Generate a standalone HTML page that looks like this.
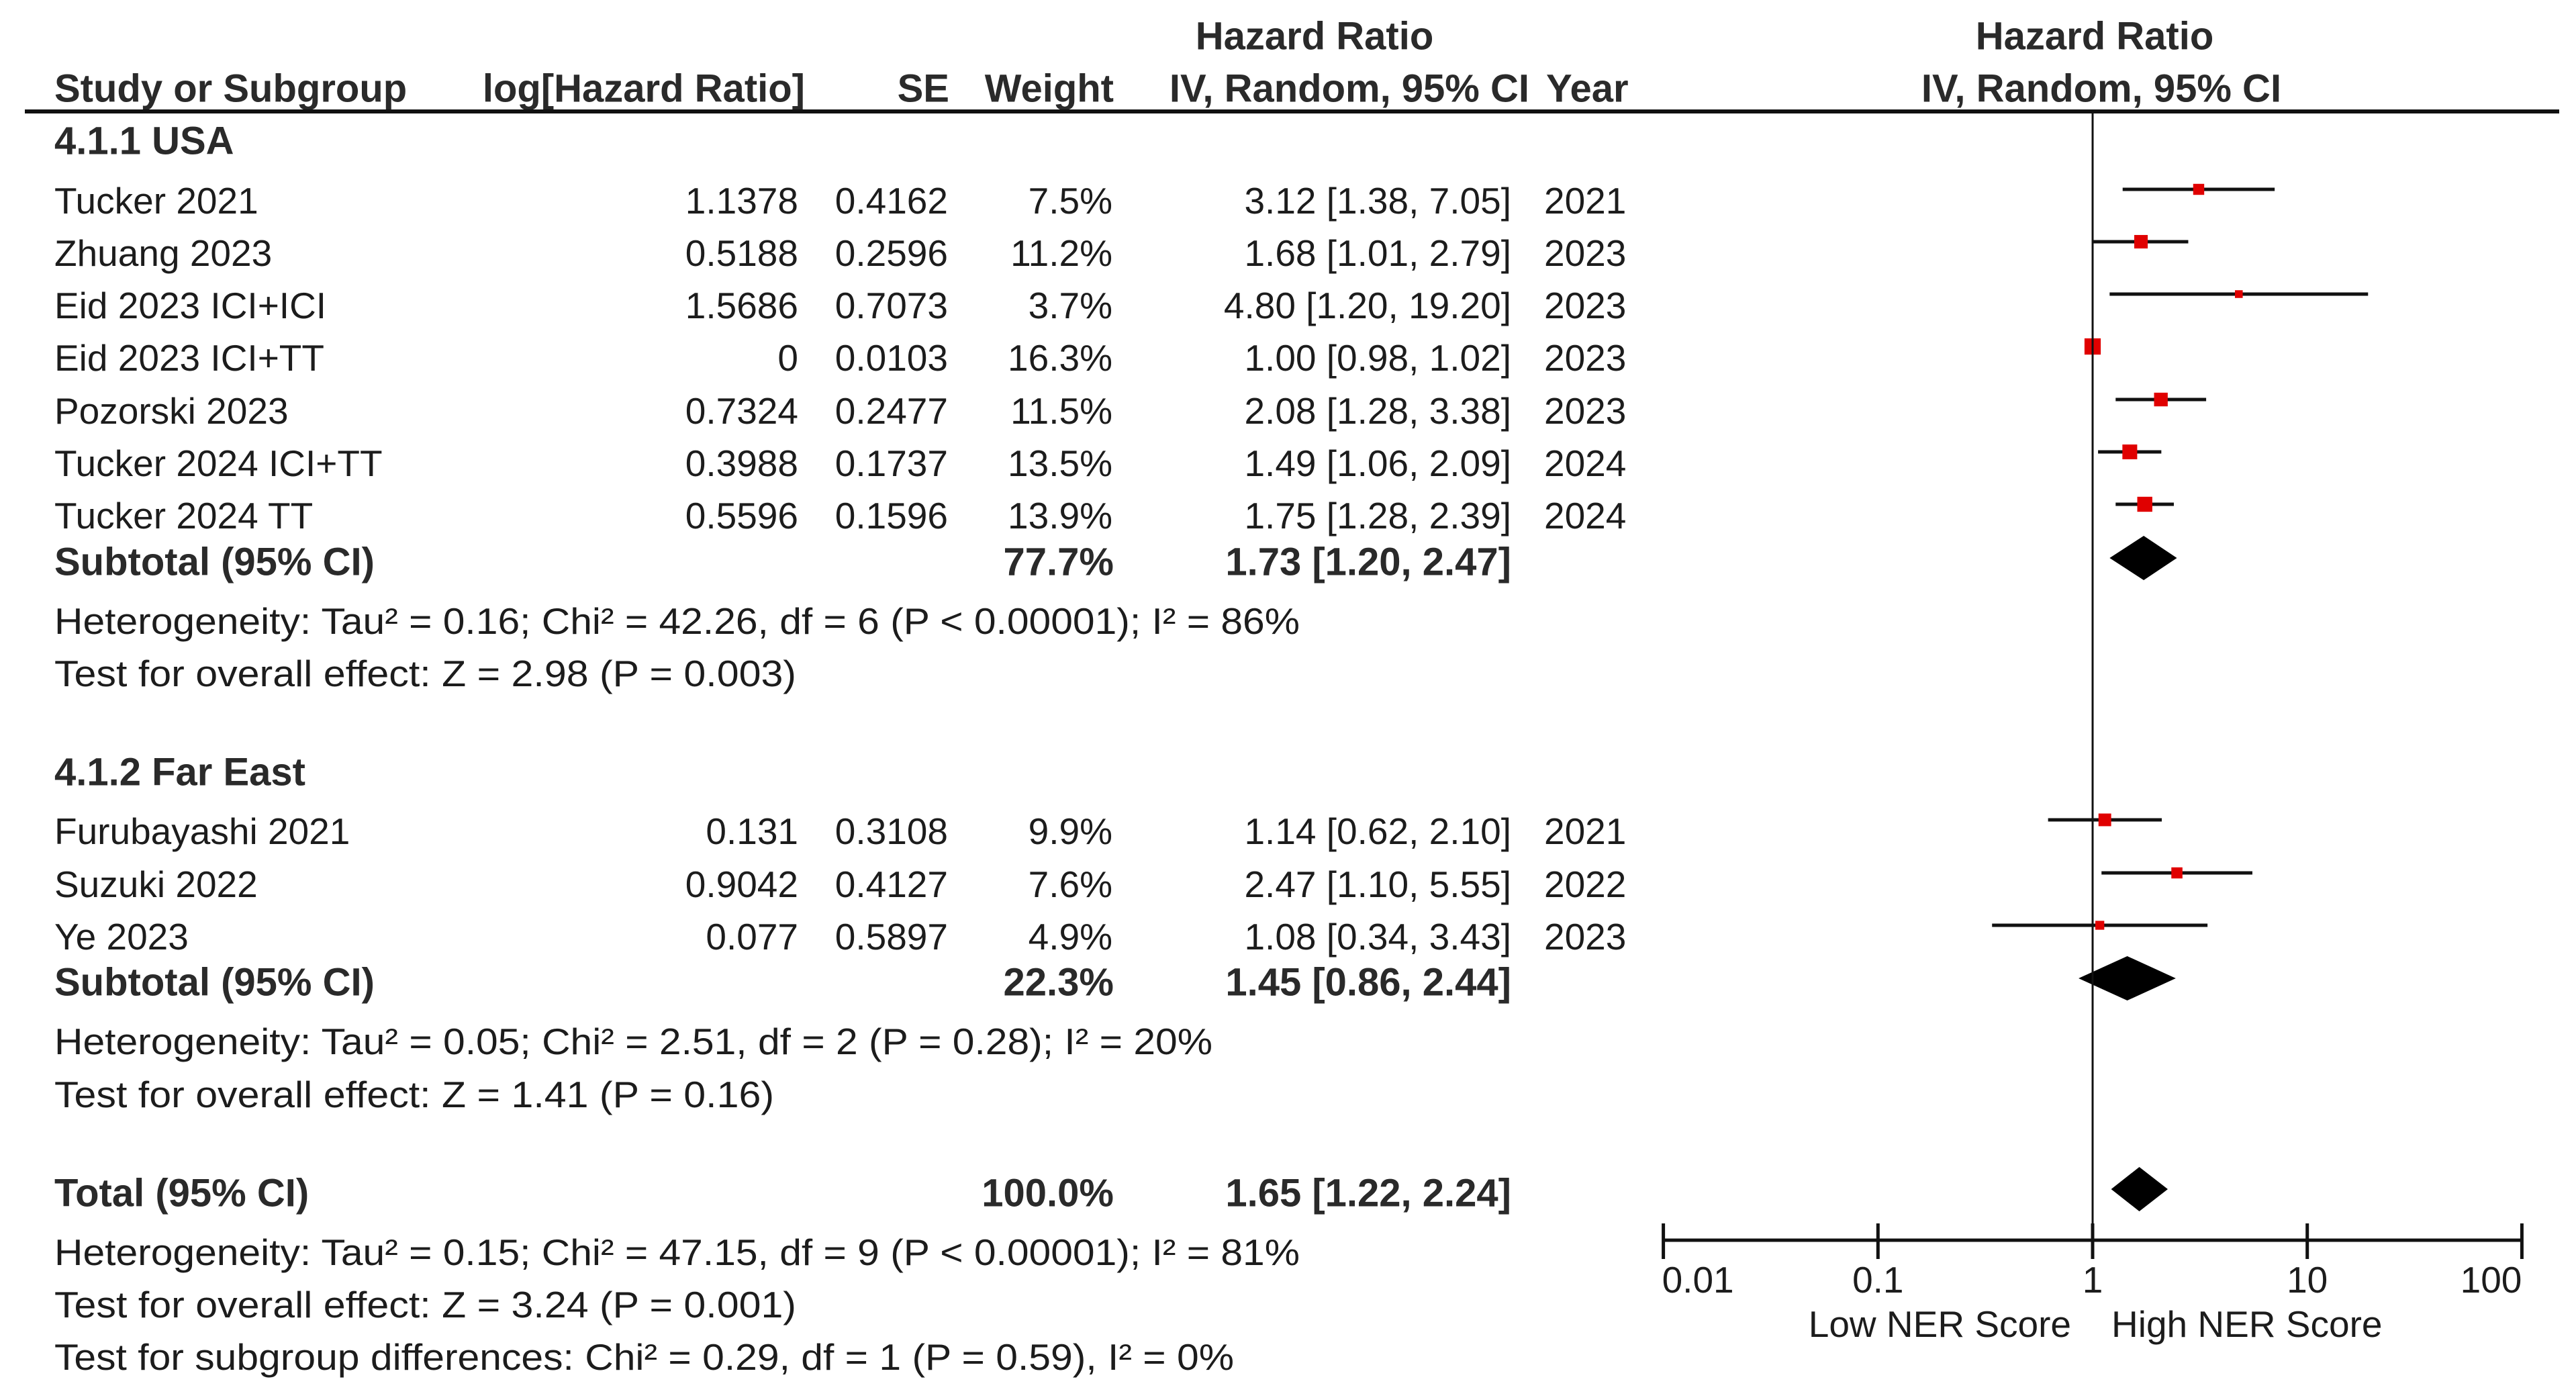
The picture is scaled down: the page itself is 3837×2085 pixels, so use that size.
<!DOCTYPE html>
<html><head><meta charset="utf-8"><title>Forest plot</title>
<style>
html,body{margin:0;padding:0;background:#fff;}
svg{display:block;}
text{font-family:"Liberation Sans",Arial,sans-serif;font-size:55px;fill:#1c1c1c;}
.b{font-weight:bold;fill:#2a2a2a;font-size:58px;}
</style></head>
<body>
<svg id="chart" width="3837" height="2085" viewBox="0 0 3837 2085" xmlns="http://www.w3.org/2000/svg">
<g id="table" dominant-baseline="central">
  <text class="b" x="1958" y="54" text-anchor="middle">Hazard Ratio</text>
  <text class="b" x="81" y="132">Study or Subgroup</text>
  <text class="b" x="1199" y="132" text-anchor="end">log[Hazard Ratio]</text>
  <text class="b" x="1414" y="132" text-anchor="end">SE</text>
  <text class="b" x="1659" y="132" text-anchor="end">Weight</text>
  <text class="b" x="2278" y="132" text-anchor="end">IV, Random, 95% CI</text>
  <text class="b" x="2303" y="132">Year</text>
  <text class="b" x="3120" y="54" text-anchor="middle">Hazard Ratio</text>
  <text class="b" x="3130" y="132" text-anchor="middle">IV, Random, 95% CI</text>
  <text class="b" x="81" y="210">4.1.1 USA</text>
  <text class="b" x="81" y="1150">4.1.2 Far East</text>
</g>
<line x1="37" y1="166" x2="3812" y2="166" stroke="#111" stroke-width="6"/>
<g id="rows" dominant-baseline="central"></g>
<g id="marks"></g>
<g id="axis"></g>
</svg>
<script>
const studyNames = ["Tucker 2021","Zhuang 2023","Eid 2023 ICI+ICI","Eid 2023 ICI+TT","Pozorski 2023","Tucker 2024 ICI+TT","Tucker 2024 TT","Furubayashi 2021","Suzuki 2022","Ye 2023"];
const logHR = ["1.1378","0.5188","1.5686","0","0.7324","0.3988","0.5596","0.131","0.9042","0.077"];
const seVals = ["0.4162","0.2596","0.7073","0.0103","0.2477","0.1737","0.1596","0.3108","0.4127","0.5897"];
const weights = [7.5,11.2,3.7,16.3,11.5,13.5,13.9,9.9,7.6,4.9];
const hrVals = [3.12,1.68,4.80,1.00,2.08,1.49,1.75,1.14,2.47,1.08];
const ciLow = [1.38,1.01,1.20,0.98,1.28,1.06,1.28,0.62,1.10,0.34];
const ciHigh = [7.05,2.79,19.20,1.02,3.38,2.09,2.39,2.10,5.55,3.43];
const years = ["2021","2023","2023","2023","2023","2024","2024","2021","2022","2023"];
const rowY = [299,377,455,533,612,690,768,1238,1317,1395];
const summaryNames = ["Subtotal (95% CI)","Subtotal (95% CI)","Total (95% CI)"];
const summaryWeights = ["77.7%","22.3%","100.0%"];
const summaryHR = [1.73,1.45,1.65];
const summaryLow = [1.20,0.86,1.22];
const summaryHigh = [2.47,2.44,2.24];
const summaryY = [837,1463,1777];
const footLines = [
 ["Heterogeneity: Tau² = 0.16; Chi² = 42.26, df = 6 (P < 0.00001); I² = 86%",925,1936],
 ["Test for overall effect: Z = 2.98 (P = 0.003)",1003,1186],
 ["Heterogeneity: Tau² = 0.05; Chi² = 2.51, df = 2 (P = 0.28); I² = 20%",1551,1806],
 ["Test for overall effect: Z = 1.41 (P = 0.16)",1630,1153],
 ["Heterogeneity: Tau² = 0.15; Chi² = 47.15, df = 9 (P < 0.00001); I² = 81%",1865,1936],
 ["Test for overall effect: Z = 3.24 (P = 0.001)",1943,1186],
 ["Test for subgroup differences: Chi² = 0.29, df = 1 (P = 0.59), I² = 0%",2021,1838]
];
const tickVals = [0.01,0.1,1,10,100];
const tickLabels = ["0.01","0.1","1","10","100"];

const NS = "http://www.w3.org/2000/svg";
const X0 = 3117, DEC = 319.7;
function xs(v){ return X0 + DEC*Math.log10(v); }
function mk(tag, attrs, parent){ const e=document.createElementNS(NS,tag); for(const k in attrs) e.setAttribute(k,attrs[k]); parent.appendChild(e); return e; }
function fmt(v){ return v.toFixed(2); }
const rows = document.getElementById('rows');
const marks = document.getElementById('marks');
const axis = document.getElementById('axis');

studyNames.forEach((n,i)=>{
  const y=rowY[i];
  let t=mk('text',{x:81,y:y},rows); t.textContent=n;
  
  
  t=mk('text',{x:1189,y:y,'text-anchor':'end'},rows); t.textContent=logHR[i];
  
  
  t=mk('text',{x:1412,y:y,'text-anchor':'end'},rows); t.textContent=seVals[i];
  
  
  t=mk('text',{x:1657,y:y,'text-anchor':'end'},rows); t.textContent=weights[i].toFixed(1)+'%';
  
  
  t=mk('text',{x:2251,y:y,'text-anchor':'end'},rows); t.textContent=fmt(hrVals[i])+' ['+fmt(ciLow[i])+', '+fmt(ciHigh[i])+']';
  
  
  t=mk('text',{x:2300,y:y},rows); t.textContent=years[i];
  
  
  const my=y-17;
  const l=mk('line',{x1:xs(ciLow[i]),x2:xs(ciHigh[i]),y1:my,y2:my,stroke:'#111','stroke-width':5},marks);
  
  
  const s=Math.sqrt(weights[i])*6;
  const r=mk('rect',{x:xs(hrVals[i])-s/2,y:my-s/2,width:s,height:s,fill:'#e00000'},marks);
  
  
});

summaryNames.forEach((n,i)=>{
  const y=summaryY[i];
  let t=mk('text',{x:81,y:y,class:'b'},rows); t.textContent=n;
  
  
  t=mk('text',{x:1659,y:y,class:'b','text-anchor':'end'},rows); t.textContent=summaryWeights[i];
  
  
  t=mk('text',{x:2251,y:y,class:'b','text-anchor':'end'},rows); t.textContent=fmt(summaryHR[i])+' ['+fmt(summaryLow[i])+', '+fmt(summaryHigh[i])+']';
  
  
  const dy=y-6, h=33;
  const p=mk('polygon',{points:[xs(summaryLow[i])+','+dy, xs(summaryHR[i])+','+(dy-h), xs(summaryHigh[i])+','+dy, xs(summaryHR[i])+','+(dy+h)].join(' '),fill:'#000'},marks);
  
  
});

footLines.forEach(f=>{
  const t=mk('text',{x:81,y:f[1],textLength:f[2]-81,lengthAdjust:'spacingAndGlyphs'},rows); t.textContent=f[0];
  
  
});

const AY=1847;
const nl=mk('line',{x1:X0,x2:X0,y1:166,y2:AY,stroke:'#111','stroke-width':3},axis);


const al=mk('line',{x1:xs(tickVals[0]),x2:xs(tickVals[tickVals.length-1]),y1:AY,y2:AY,stroke:'#111','stroke-width':5},axis);


tickVals.forEach((v,i)=>{
  const tk=mk('line',{x1:xs(v),x2:xs(v),y1:AY-25,y2:AY+28,stroke:'#111','stroke-width':5},axis);
  
  
  const anchor = i===0?'start':(i===tickVals.length-1?'end':'middle');
  const t=mk('text',{x:xs(v)+(i===0?-2:0),y:1906,'text-anchor':anchor,'dominant-baseline':'central'},axis); t.textContent=tickLabels[i];
  
  
});
let lt=mk('text',{x:3085,y:1972,'text-anchor':'end','dominant-baseline':'central',fill:'#333'},axis); lt.textContent='Low NER Score';


lt=mk('text',{x:3145,y:1972,'dominant-baseline':'central',fill:'#333'},axis); lt.textContent='High NER Score';


</script>
</body></html>
